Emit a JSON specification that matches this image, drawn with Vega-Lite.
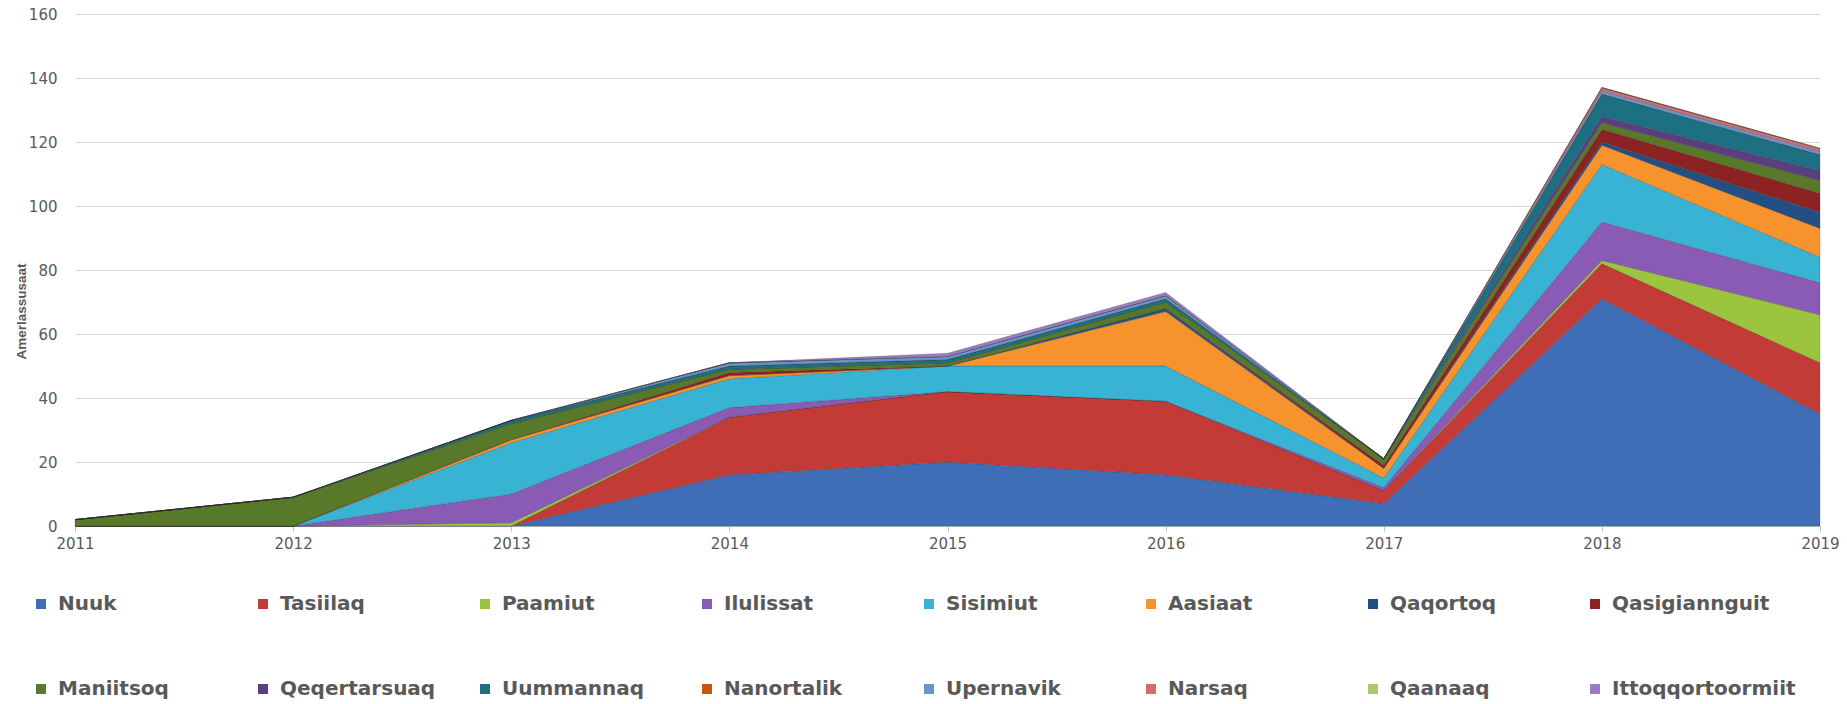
{
  "$schema": "https://vega.github.io/schema/vega-lite/v6.json",
  "autosize": {"type": "none"},
  "width": 1745,
  "height": 512,
  "padding": {"left": 75, "top": 14, "right": 27, "bottom": 178},
  "background": "#ffffff",
  "config": {"view": {"stroke": null}},
  "data": {"values": [
    {"year":2011,"town":"Nuuk","k":1,"n":0},{"year":2012,"town":"Nuuk","k":1,"n":0},{"year":2013,"town":"Nuuk","k":1,"n":0},{"year":2014,"town":"Nuuk","k":1,"n":16},{"year":2015,"town":"Nuuk","k":1,"n":20},{"year":2016,"town":"Nuuk","k":1,"n":16},{"year":2017,"town":"Nuuk","k":1,"n":7},{"year":2018,"town":"Nuuk","k":1,"n":71},{"year":2019,"town":"Nuuk","k":1,"n":35},
    {"year":2011,"town":"Tasiilaq","k":2,"n":0},{"year":2012,"town":"Tasiilaq","k":2,"n":0},{"year":2013,"town":"Tasiilaq","k":2,"n":0},{"year":2014,"town":"Tasiilaq","k":2,"n":18},{"year":2015,"town":"Tasiilaq","k":2,"n":22},{"year":2016,"town":"Tasiilaq","k":2,"n":23},{"year":2017,"town":"Tasiilaq","k":2,"n":4},{"year":2018,"town":"Tasiilaq","k":2,"n":11},{"year":2019,"town":"Tasiilaq","k":2,"n":16},
    {"year":2011,"town":"Paamiut","k":3,"n":0},{"year":2012,"town":"Paamiut","k":3,"n":0},{"year":2013,"town":"Paamiut","k":3,"n":1},{"year":2014,"town":"Paamiut","k":3,"n":0},{"year":2015,"town":"Paamiut","k":3,"n":0},{"year":2016,"town":"Paamiut","k":3,"n":0},{"year":2017,"town":"Paamiut","k":3,"n":0},{"year":2018,"town":"Paamiut","k":3,"n":1},{"year":2019,"town":"Paamiut","k":3,"n":15},
    {"year":2011,"town":"Ilulissat","k":4,"n":0},{"year":2012,"town":"Ilulissat","k":4,"n":0},{"year":2013,"town":"Ilulissat","k":4,"n":9},{"year":2014,"town":"Ilulissat","k":4,"n":3},{"year":2015,"town":"Ilulissat","k":4,"n":0},{"year":2016,"town":"Ilulissat","k":4,"n":0},{"year":2017,"town":"Ilulissat","k":4,"n":1},{"year":2018,"town":"Ilulissat","k":4,"n":12},{"year":2019,"town":"Ilulissat","k":4,"n":10},
    {"year":2011,"town":"Sisimiut","k":5,"n":0},{"year":2012,"town":"Sisimiut","k":5,"n":0},{"year":2013,"town":"Sisimiut","k":5,"n":16},{"year":2014,"town":"Sisimiut","k":5,"n":9},{"year":2015,"town":"Sisimiut","k":5,"n":8},{"year":2016,"town":"Sisimiut","k":5,"n":11},{"year":2017,"town":"Sisimiut","k":5,"n":3},{"year":2018,"town":"Sisimiut","k":5,"n":18},{"year":2019,"town":"Sisimiut","k":5,"n":8},
    {"year":2011,"town":"Aasiaat","k":6,"n":0},{"year":2012,"town":"Aasiaat","k":6,"n":0},{"year":2013,"town":"Aasiaat","k":6,"n":1},{"year":2014,"town":"Aasiaat","k":6,"n":1},{"year":2015,"town":"Aasiaat","k":6,"n":0},{"year":2016,"town":"Aasiaat","k":6,"n":17},{"year":2017,"town":"Aasiaat","k":6,"n":3},{"year":2018,"town":"Aasiaat","k":6,"n":6},{"year":2019,"town":"Aasiaat","k":6,"n":9},
    {"year":2011,"town":"Qaqortoq","k":7,"n":0},{"year":2012,"town":"Qaqortoq","k":7,"n":0},{"year":2013,"town":"Qaqortoq","k":7,"n":0},{"year":2014,"town":"Qaqortoq","k":7,"n":0},{"year":2015,"town":"Qaqortoq","k":7,"n":0},{"year":2016,"town":"Qaqortoq","k":7,"n":1},{"year":2017,"town":"Qaqortoq","k":7,"n":0},{"year":2018,"town":"Qaqortoq","k":7,"n":1},{"year":2019,"town":"Qaqortoq","k":7,"n":5},
    {"year":2011,"town":"Qasigiannguit","k":8,"n":0},{"year":2012,"town":"Qasigiannguit","k":8,"n":0},{"year":2013,"town":"Qasigiannguit","k":8,"n":0},{"year":2014,"town":"Qasigiannguit","k":8,"n":1},{"year":2015,"town":"Qasigiannguit","k":8,"n":0},{"year":2016,"town":"Qasigiannguit","k":8,"n":0},{"year":2017,"town":"Qasigiannguit","k":8,"n":1},{"year":2018,"town":"Qasigiannguit","k":8,"n":4},{"year":2019,"town":"Qasigiannguit","k":8,"n":6},
    {"year":2011,"town":"Maniitsoq","k":9,"n":2},{"year":2012,"town":"Maniitsoq","k":9,"n":9},{"year":2013,"town":"Maniitsoq","k":9,"n":5},{"year":2014,"town":"Maniitsoq","k":9,"n":1},{"year":2015,"town":"Maniitsoq","k":9,"n":1},{"year":2016,"town":"Maniitsoq","k":9,"n":2},{"year":2017,"town":"Maniitsoq","k":9,"n":2},{"year":2018,"town":"Maniitsoq","k":9,"n":2},{"year":2019,"town":"Maniitsoq","k":9,"n":4},
    {"year":2011,"town":"Qeqertarsuaq","k":10,"n":0},{"year":2012,"town":"Qeqertarsuaq","k":10,"n":0},{"year":2013,"town":"Qeqertarsuaq","k":10,"n":0},{"year":2014,"town":"Qeqertarsuaq","k":10,"n":0},{"year":2015,"town":"Qeqertarsuaq","k":10,"n":0},{"year":2016,"town":"Qeqertarsuaq","k":10,"n":0},{"year":2017,"town":"Qeqertarsuaq","k":10,"n":0},{"year":2018,"town":"Qeqertarsuaq","k":10,"n":2},{"year":2019,"town":"Qeqertarsuaq","k":10,"n":3},
    {"year":2011,"town":"Uummannaq","k":11,"n":0},{"year":2012,"town":"Uummannaq","k":11,"n":0},{"year":2013,"town":"Uummannaq","k":11,"n":1},{"year":2014,"town":"Uummannaq","k":11,"n":1},{"year":2015,"town":"Uummannaq","k":11,"n":1},{"year":2016,"town":"Uummannaq","k":11,"n":1},{"year":2017,"town":"Uummannaq","k":11,"n":0},{"year":2018,"town":"Uummannaq","k":11,"n":7},{"year":2019,"town":"Uummannaq","k":11,"n":5},
    {"year":2011,"town":"Nanortalik","k":12,"n":0},{"year":2012,"town":"Nanortalik","k":12,"n":0},{"year":2013,"town":"Nanortalik","k":12,"n":0},{"year":2014,"town":"Nanortalik","k":12,"n":0},{"year":2015,"town":"Nanortalik","k":12,"n":0},{"year":2016,"town":"Nanortalik","k":12,"n":0},{"year":2017,"town":"Nanortalik","k":12,"n":0},{"year":2018,"town":"Nanortalik","k":12,"n":0},{"year":2019,"town":"Nanortalik","k":12,"n":0},
    {"year":2011,"town":"Upernavik","k":13,"n":0},{"year":2012,"town":"Upernavik","k":13,"n":0},{"year":2013,"town":"Upernavik","k":13,"n":0},{"year":2014,"town":"Upernavik","k":13,"n":1},{"year":2015,"town":"Upernavik","k":13,"n":1},{"year":2016,"town":"Upernavik","k":13,"n":1},{"year":2017,"town":"Upernavik","k":13,"n":0},{"year":2018,"town":"Upernavik","k":13,"n":1},{"year":2019,"town":"Upernavik","k":13,"n":1},
    {"year":2011,"town":"Narsaq","k":14,"n":0},{"year":2012,"town":"Narsaq","k":14,"n":0},{"year":2013,"town":"Narsaq","k":14,"n":0},{"year":2014,"town":"Narsaq","k":14,"n":0},{"year":2015,"town":"Narsaq","k":14,"n":0},{"year":2016,"town":"Narsaq","k":14,"n":0},{"year":2017,"town":"Narsaq","k":14,"n":0},{"year":2018,"town":"Narsaq","k":14,"n":1},{"year":2019,"town":"Narsaq","k":14,"n":1},
    {"year":2011,"town":"Qaanaaq","k":15,"n":0},{"year":2012,"town":"Qaanaaq","k":15,"n":0},{"year":2013,"town":"Qaanaaq","k":15,"n":0},{"year":2014,"town":"Qaanaaq","k":15,"n":0},{"year":2015,"town":"Qaanaaq","k":15,"n":0},{"year":2016,"town":"Qaanaaq","k":15,"n":0},{"year":2017,"town":"Qaanaaq","k":15,"n":0},{"year":2018,"town":"Qaanaaq","k":15,"n":0},{"year":2019,"town":"Qaanaaq","k":15,"n":0},
    {"year":2011,"town":"Ittoqqortoormiit","k":16,"n":0},{"year":2012,"town":"Ittoqqortoormiit","k":16,"n":0},{"year":2013,"town":"Ittoqqortoormiit","k":16,"n":0},{"year":2014,"town":"Ittoqqortoormiit","k":16,"n":0},{"year":2015,"town":"Ittoqqortoormiit","k":16,"n":1},{"year":2016,"town":"Ittoqqortoormiit","k":16,"n":1},{"year":2017,"town":"Ittoqqortoormiit","k":16,"n":0},{"year":2018,"town":"Ittoqqortoormiit","k":16,"n":0},{"year":2019,"town":"Ittoqqortoormiit","k":16,"n":0}
  ]},
  "mark": {"type": "area", "stroke": "#2b2b2b", "strokeOpacity": 0.3, "strokeWidth": 0.7, "strokeJoin": "round"},
  "encoding": {
    "x": {
      "field": "year", "type": "quantitative",
      "scale": {"domain": [2011, 2019], "nice": false, "zero": false},
      "axis": {
        "title": null, "values": [2011,2012,2013,2014,2015,2016,2017,2018,2019], "format": "d",
        "labelFlush": false, "grid": false, "domainColor": "#BFBFBF", "tickColor": "#BFBFBF", "tickSize": 5,
        "labelFont": "DejaVu Sans", "labelFontSize": 15, "labelColor": "#595959", "labelPadding": 5
      }
    },
    "y": {
      "field": "n", "type": "quantitative", "stack": "zero",
      "scale": {"domain": [0, 160], "nice": false},
      "axis": {
        "title": "Amerlassusaat", "values": [0,20,40,60,80,100,120,140,160],
        "domain": false, "ticks": false, "labelPadding": 18,
        "gridColor": "#D9D9D9", "gridWidth": 1,
        "labelFont": "DejaVu Sans", "labelFontSize": 15, "labelColor": "#595959",
        "titleFont": "Liberation Sans", "titleFontSize": 13.5, "titleFontWeight": "bold", "titleColor": "#595959",
        "titleX": -54, "titleY": 297, "titleAlign": "center", "titleBaseline": "middle", "titleAngle": -90
      }
    },
    "color": {
      "field": "town", "type": "nominal",
      "scale": {
        "domain": ["Nuuk","Tasiilaq","Paamiut","Ilulissat","Sisimiut","Aasiaat","Qaqortoq","Qasigiannguit","Maniitsoq","Qeqertarsuaq","Uummannaq","Nanortalik","Upernavik","Narsaq","Qaanaaq","Ittoqqortoormiit"],
        "range": ["#3F6DB6","#C23B36","#9DC43E","#8A5BB5","#38B3D3","#F7932D","#244F82","#8C2222","#58782A","#5B3E7D","#1D6F82","#C2570E","#6B93C8","#D26E6B","#AAC96C","#9A7CC2"]
      },
      "legend": {
        "title": null, "orient": "none", "legendX": -44, "legendY": 580,
        "direction": "horizontal", "columns": 8, "gridAlign": "all",
        "columnPadding": 11, "rowPadding": 65, "padding": 0,
        "symbolType": "square", "symbolSize": 100, "symbolStrokeWidth": 0, "symbolOpacity": 1,
        "labelFont": "DejaVu Sans", "labelFontSize": 20, "labelFontWeight": "bold", "labelColor": "#595959",
        "labelOffset": 7, "labelLimit": 400
      }
    },
    "order": {"field": "k", "type": "quantitative"}
  }
}
